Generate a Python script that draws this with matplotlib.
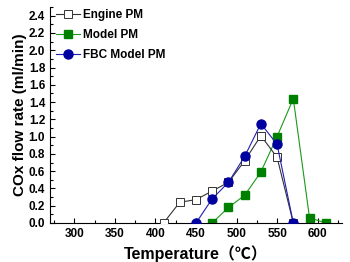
import matplotlib
matplotlib.use('Agg')
import matplotlib.pyplot as plt
from matplotlib.ticker import MultipleLocator

# data
engine_T = [410, 430, 450, 470, 490, 510, 530, 550, 570]
engine_rate = [0.0, 0.24, 0.27, 0.37, 0.47, 0.72, 1.01, 0.76, 0.0]

model_T = [470, 490, 510, 530, 550, 570, 590, 610]
model_rate = [0.0, 0.18, 0.32, 0.59, 1.0, 1.44, 0.06, 0.0]

fbc_T = [450, 470, 490, 510, 530, 550, 570]
fbc_rate = [0.0, 0.28, 0.47, 0.77, 1.15, 0.91, 0.0]

plt.rcParams['font.family'] = ['Liberation Sans', 'Noto Sans CJK SC', 'DejaVu Sans']
plt.rcParams['font.weight'] = 'bold'

fig = plt.figure(figsize=(3.5, 2.62), dpi=100)
ax = fig.add_axes([0.143, 0.149, 0.834, 0.824])

ax.plot(engine_T, engine_rate, color='#333333', linewidth=0.8, marker='s',
        markersize=5.5, markerfacecolor='white', markeredgecolor='#333333',
        markeredgewidth=0.7, label='Engine PM', zorder=3)
ax.plot(model_T, model_rate, color='#1a9a1a', linewidth=0.8, marker='s',
        markersize=5.5, markerfacecolor='#008000', markeredgecolor='#008000',
        label='Model PM', zorder=2)
ax.plot(fbc_T, fbc_rate, color='#2020b0', linewidth=0.8, marker='o',
        markersize=6.5, markerfacecolor='#0000a0', markeredgecolor='#0000a0',
        label='FBC Model PM', zorder=4)

ax.set_xlim(270, 630)
ax.set_ylim(0, 2.5)
ax.xaxis.set_major_locator(MultipleLocator(50))
ax.xaxis.set_minor_locator(MultipleLocator(25))
ax.yaxis.set_minor_locator(MultipleLocator(0.1))
ax.set_yticks([0.0, 0.2, 0.4, 0.6, 0.8, 1.0, 1.2, 1.4, 1.6, 1.8, 2.0, 2.2, 2.4])
ax.yaxis.set_major_formatter(plt.FuncFormatter(lambda v, p: f'{v:.1f}'))

ax.spines['top'].set_visible(False)
ax.spines['right'].set_visible(False)
ax.tick_params(which='both', direction='in', labelsize=8.5, width=0.8)
ax.tick_params(which='major', length=3.5)
ax.tick_params(which='minor', length=2)

ax.set_xlabel('Temperature（℃）', fontsize=11.5, fontweight='bold', labelpad=4)
ax.set_ylabel('COx flow rate (ml/min)', fontsize=11, fontweight='bold', labelpad=1)

leg = ax.legend(loc='upper left', frameon=False, fontsize=8.5,
                handlelength=2.0, handletextpad=0.3, labelspacing=0.7,
                borderaxespad=0.1, bbox_to_anchor=(0.0, 1.02))

fig.savefig('out.png', dpi=100)
